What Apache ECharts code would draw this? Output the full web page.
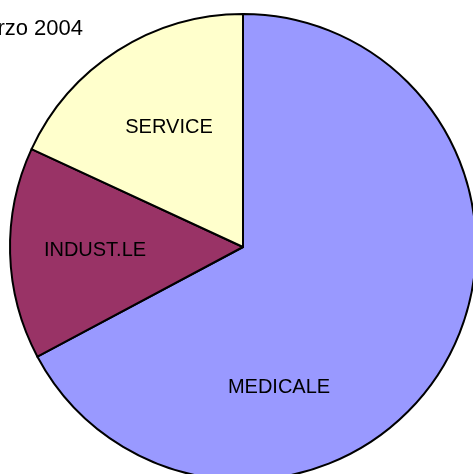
<!DOCTYPE html>
<html>
<head>
<meta charset="utf-8">
<script src="https://cdn.jsdelivr.net/npm/echarts@6/dist/echarts.min.js"></script>
<style>
  html, body { margin: 0; padding: 0; background: #fff; }
  #chart { width: 473px; height: 474px; }
</style>
</head>
<body>
<div id="chart"></div>
<script>
// settori, in ordine orario da ore 12
var categories = ['MEDICALE', 'INDUST.LE', 'SERVICE']
var values = [67.2, 14.7, 18.1]
var colors = ['#9999FF', '#993366', '#FFFFCC']
// dove Excel mette le etichette (px)
var labelAt = [[279, 387], [95, 250], [169, 127]]

var chart = echarts.init(document.getElementById('chart'))
var option = {
  animation: false,
  title: {
    text: 'Marzo 2004',
    right: 390,
    top: 18,
    padding: 0,
    textStyle: {
      fontFamily: 'Liberation Sans, Arial, sans-serif',
      fontSize: 22,
      fontWeight: 'normal',
      color: '#000'
    }
  },
  series: [
    {
      type: 'pie',
      center: [243, 247],
      radius: 233,
      startAngle: 90,
      clockwise: true,
      silent: true,
      data: categories.map(function (c, i) {
        return { name: c, value: values[i], itemStyle: { color: colors[i] } }
      }),
      itemStyle: {
        borderColor: '#000',
        borderWidth: 2
      },
      label: {
        show: true,
        position: 'inside',
        formatter: '{b}',
        color: '#000',
        fontFamily: 'Liberation Sans, Arial, sans-serif',
        fontSize: 20
      },
      labelLayout: function (params) {
        var p = labelAt[params.dataIndex]
        return { x: p[0], y: p[1], align: 'center', verticalAlign: 'middle' }
      },
      labelLine: { show: false }
    }
  ]
}
chart.setOption(option)
</script>
</body>
</html>
